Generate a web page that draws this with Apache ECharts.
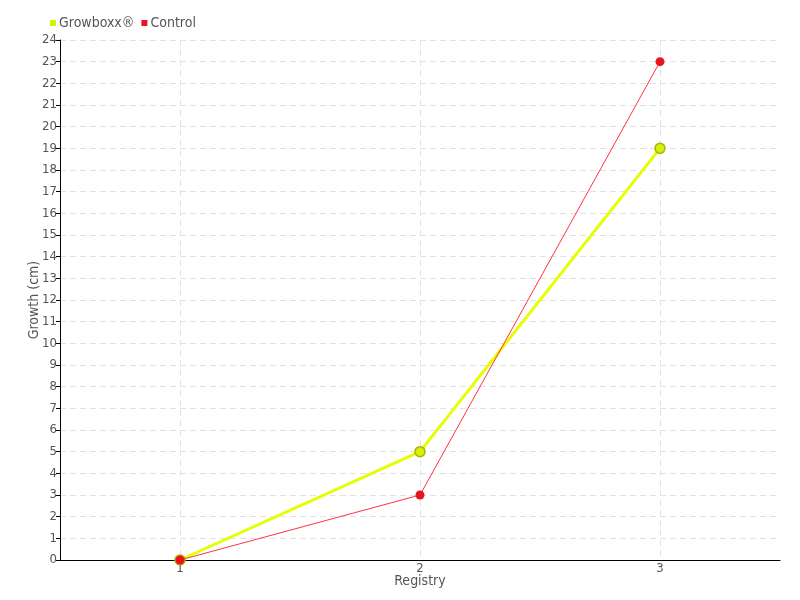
<!DOCTYPE html>
<html><head><meta charset="utf-8">
<script src="https://cdn.jsdelivr.net/npm/echarts@6/dist/echarts.min.js"></script>
<style>html,body{margin:0;padding:0;background:#fff}#c{width:800px;height:600px}</style>
</head><body><div id="c"></div>
<script>
const categories = ['1', '2', '3'];
const growboxx = [0, 5, 19];
const control = [0, 3, 23];
const yMin = 0, yMax = 24, yStep = 1;

const FONT = '"DejaVu Sans Condensed", "Liberation Sans Narrow", sans-serif';
const chart = echarts.init(document.getElementById('c'));
chart.setOption({
  animation: false,
  textStyle: { fontFamily: FONT },
  legend: {
    left: 45, top: 11, itemWidth: 6, itemHeight: 6, itemGap: 7,
    icon: 'rect',
    itemStyle: { borderWidth: 0 },
    textStyle: { color: '#555', fontSize: 14, fontFamily: FONT, padding: [0, 0, 0, -2] },
    data: ['Growboxx®', 'Control']
  },
  grid: { left: 60, right: 20, top: 40, bottom: 40, containLabel: false },
  xAxis: {
    type: 'category', data: categories, boundaryGap: true,
    name: 'Registry', nameLocation: 'middle', nameGap: 14, nameMoveOverlap: false,
    nameTextStyle: { color: '#555', fontSize: 14, fontFamily: FONT },
    axisLine: { lineStyle: { color: '#000', width: 1 } },
    axisTick: { alignWithLabel: true, length: 3, lineStyle: { color: '#000' } },
    axisLabel: { color: '#555', fontSize: 13, margin: 2, fontFamily: FONT },
    splitLine: { show: true, alignWithLabel: true, lineStyle: { color: '#e2e2e2', type: [6, 4] } }
  },
  yAxis: {
    type: 'value', min: yMin, max: yMax, interval: yStep,
    name: 'Growth (cm)', nameLocation: 'middle', nameGap: 19, nameMoveOverlap: false,
    nameTextStyle: { color: '#555', fontSize: 14, fontFamily: FONT },
    axisLine: { show: true, lineStyle: { color: '#000', width: 1 } },
    axisTick: { show: true, length: 4, lineStyle: { color: '#000' } },
    axisLabel: { color: '#555', fontSize: 13, margin: 3, fontFamily: FONT },
    splitLine: { show: true, lineStyle: { color: '#e2e2e2', type: [6, 4] } }
  },
  series: [
    {
      name: 'Growboxx®', type: 'line', data: growboxx,
      symbol: 'circle', symbolSize: 10,
      lineStyle: { color: '#e6ff00', width: 3 },
      itemStyle: { color: '#d6f00a', borderColor: '#a9b600', borderWidth: 1.5 },
      z: 2
    },
    {
      name: 'Control', type: 'line', data: control,
      symbol: 'circle', symbolSize: 9,
      lineStyle: { color: '#ff3345', width: 1 },
      itemStyle: { color: '#e8141e', borderWidth: 0 },
      z: 3
    }
  ]
});
</script></body></html>
